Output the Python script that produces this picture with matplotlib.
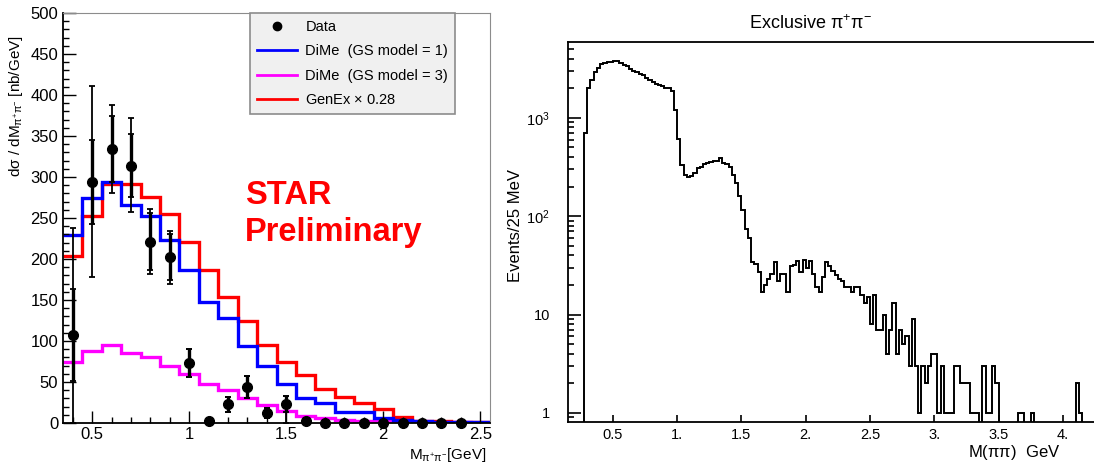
import numpy as np
import matplotlib
matplotlib.use('Agg')
import matplotlib.pyplot as plt
from matplotlib.lines import Line2D
from matplotlib.ticker import MultipleLocator, FixedLocator, FixedFormatter, LogLocator, NullFormatter

plt.rcParams['font.family'] = ['Liberation Sans', 'DejaVu Sans']
plt.rcParams['mathtext.fontset'] = 'custom'
plt.rcParams['mathtext.rm'] = 'Liberation Sans'
plt.rcParams['mathtext.it'] = 'Liberation Sans:italic'
plt.rcParams['mathtext.default'] = 'regular'

# --- STAR: d sigma / d M, 0.1 GeV bins starting at 0.35 GeV ---
star_lo, star_w = 0.35, 0.1
dime_gs1 = [229, 274, 294, 266, 252, 223, 187, 147, 128, 94, 70, 47,
            31, 25, 13, 13, 6, 3.5, 2, 1.5, 1, 0.8]
dime_gs3 = [74, 88, 95, 85, 80, 70, 60, 47, 40, 30, 22, 15,
            9, 6, 4, 3, 2.5, 2, 1.5, 1, 0.8, 0.5]
genex = [204, 253, 292, 292, 275, 255, 221, 187, 154, 124, 95, 74,
         59, 42, 32, 24, 17, 7, 3, 2, 1.5, 1]

data_x = [0.4, 0.5, 0.6, 0.7, 0.8, 0.9, 1.0, 1.1, 1.2, 1.3, 1.4, 1.5,
          1.6, 1.7, 1.8, 1.9, 2.0, 2.1, 2.2, 2.3, 2.4]
data_y = [107, 294, 334, 314, 221, 202, 73, 2, 23, 44, 12, 23,
          3, 0, 0, 0, 0, 0, 0, 0, 0]
stat_err = [56, 51, 40, 38, 35, 28, 17, 0, 9, 13, 6, 10,
            0, 0, 0, 0, 0, 0, 0, 0, 0]
tot_lo = [107, 116, 53, 57, 39, 32, 17, 0, 9, 13, 6, 23,
          0, 0, 0, 0, 0, 0, 0, 0, 0]
tot_hi = [131, 117, 54, 58, 40, 32, 17, 0, 9, 13, 6, 10,
          0, 0, 0, 0, 0, 0, 0, 0, 0]

# --- old exclusive pi+pi- spectrum, 25 MeV bins starting at 0.275 GeV ---
mpp_lo, mpp_w = 0.275, 0.025
events = [
    698, 2003, 2434, 2890, 3200, 3514, 3597, 3657, 3710, 3800,   # 0.275
    3741, 3597, 3460, 3327, 3150, 3005, 2890, 2780, 2737, 2570,  # 0.525
    2434, 2287, 2217, 2166, 2115, 2034, 2003, 1853, 1206, 607,   # 0.775
    333, 263, 253, 257, 278, 308, 320, 338, 346, 352,            # 1.025
    360, 368, 389, 346, 341, 320, 263, 217, 161, 116,            # 1.275
    75, 60, 34, 33, 27, 17, 20, 23, 26, 34,                      # 1.525
    22, 26, 26, 17, 31, 32, 35, 27, 36, 30,                      # 1.775
    35, 26, 19, 17, 24, 34, 31, 28, 25, 23,                      # 2.025
    22, 19, 19, 17, 19, 19, 16, 13, 15, 8,                       # 2.275
    16, 7, 7, 10, 4, 7, 13, 4, 7, 5,                             # 2.525
    6, 3, 9, 3, 1, 3, 2, 3, 4, 4,                                # 2.775
    1, 3, 1, 1, 1, 3, 3, 2, 2, 2,                                # 3.025
    1, 1, 1, 0, 3, 1, 1, 3, 2, 0,                                # 3.275
    0, 0, 0, 0, 0, 1, 1, 0, 0, 1,                                # 3.525
    0, 0, 0, 0, 0, 0, 0, 0, 0, 0,                                # 3.775
    0, 0, 0, 2, 1,                                               # 4.025
]

fig = plt.figure(figsize=(10.94, 4.65), dpi=100)

# ---------------- left panel ----------------
ax1 = fig.add_axes([63 / 1094, 1 - 423 / 465, 427 / 1094, 410 / 465])
star_edges = star_lo + star_w * np.arange(len(dime_gs1) + 1)
ax1.stairs(dime_gs3, star_edges, baseline=None, color='#ff00ff', lw=2.4)
ax1.stairs(genex, star_edges, baseline=None, color='#ff0000', lw=2.4)
ax1.stairs(dime_gs1, star_edges, baseline=None, color='#0000ff', lw=2.4)

ax1.errorbar(data_x, data_y, yerr=[tot_lo, tot_hi], fmt='none', ecolor='k',
             elinewidth=1.3, capsize=2, capthick=1.3, clip_on=False)
ax1.errorbar(data_x, data_y, yerr=stat_err, fmt='none', ecolor='k',
             elinewidth=2.4, capsize=2, capthick=1.3, clip_on=False)
ax1.plot(data_x, data_y, 'o', color='k', ms=7, clip_on=False, zorder=5)

ax1.set_xlim(0.35, 2.55)
ax1.set_ylim(0, 500)
ax1.xaxis.set_major_locator(FixedLocator([0.5, 1, 1.5, 2, 2.5]))
ax1.xaxis.set_major_formatter(FixedFormatter(['0.5', '1', '1.5', '2', '2.5']))
ax1.xaxis.set_minor_locator(MultipleLocator(0.1))
ax1.yaxis.set_major_locator(MultipleLocator(50))
ax1.yaxis.set_minor_locator(MultipleLocator(10))
ax1.tick_params(which='both', direction='in', labelsize=12, width=1)
ax1.tick_params(which='major', length=9)
ax1.tick_params(which='minor', length=4.5)
ax1.tick_params(axis='x', pad=3)
for side in ('top', 'right'):
    ax1.spines[side].set_color('#8c8c8c')
for side in ('left', 'bottom'):
    ax1.spines[side].set_linewidth(1.3)

fig.text(16 / 1094, 1 - 106 / 465, r'd$\sigma$ / dM$_{\pi^{+}\pi^{-}}$ [nb/GeV]',
         rotation=90, ha='center', va='center', fontsize=11)
fig.text(486 / 1094, 1 - 455 / 465, r'M$_{\pi^{+}\pi^{-}}$[GeV]',
         ha='right', va='center', fontsize=11)

ax1.text(0.426, 0.592, 'STAR\nPreliminary', transform=ax1.transAxes,
         color='#ff0000', fontsize=23.5, fontweight='bold', ha='left', va='top',
         linespacing=1.22)

handles = [
    Line2D([], [], marker='o', ls='none', color='k', ms=6),
    Line2D([], [], color='#0000ff', lw=2),
    Line2D([], [], color='#ff00ff', lw=2),
    Line2D([], [], color='#ff0000', lw=2),
]
labels = ['Data', 'DiMe  (GS model = 1)', 'DiMe  (GS model = 3)',
          'GenEx $\\times$ 0.28']
leg = ax1.legend(handles, labels, loc='upper left',
                 bbox_to_anchor=(250 / 1094, 1 - 13 / 465),
                 bbox_transform=fig.transFigure, fontsize=10.5,
                 fancybox=False, framealpha=1, facecolor='#f0f0f0',
                 edgecolor='#8c8c8c', borderpad=0.5, labelspacing=0.7,
                 handlelength=2.7, handletextpad=0.6, borderaxespad=0)
leg.get_frame().set_linewidth(1.2)

# ---------------- right panel ----------------
ax2 = fig.add_axes([568 / 1094, 1 - 422 / 465, 526 / 1094, 380 / 465])
mpp_edges = mpp_lo + mpp_w * np.arange(len(events) + 1)
ax2.set_yscale('log', nonpositive='clip')
ax2.stairs(events, mpp_edges, baseline=0.1, color='k', lw=1.4)

ax2.set_xlim(0.15, 4.243)
ax2.set_ylim(0.81, 5900)
ax2.xaxis.set_major_locator(FixedLocator([0.5, 1, 1.5, 2, 2.5, 3, 3.5, 4]))
ax2.xaxis.set_major_formatter(FixedFormatter(
    ['0.5', '1.', '1.5', '2.', '2.5', '3.', '3.5', '4.']))
ax2.yaxis.set_major_locator(FixedLocator([1, 10, 100, 1000]))
ax2.yaxis.set_major_formatter(FixedFormatter(['1', '10', '$10^2$', '$10^3$']))
ax2.yaxis.set_minor_locator(LogLocator(base=10, subs=np.arange(2, 10)))
ax2.yaxis.set_minor_formatter(NullFormatter())
ax2.tick_params(which='both', direction='in', width=1.2, labelsize=10.5)
ax2.tick_params(axis='x', which='major', length=5, pad=4)
ax2.tick_params(axis='y', which='major', length=9, pad=13)
ax2.tick_params(axis='y', which='minor', length=4.5)
ax2.spines['right'].set_visible(False)
for side in ('left', 'bottom', 'top'):
    ax2.spines[side].set_linewidth(1.3)

ax2.set_title(r'Exclusive $\pi^{+}\pi^{-}$', fontsize=13, pad=9, x=0.46)
fig.text(516 / 1094, 1 - 225 / 465, 'Events/25 MeV', rotation=90,
         ha='center', va='center', fontsize=12)
fig.text(968 / 1094, 1 - 452 / 465, r'M($\pi\pi$)  GeV',
         ha='left', va='center', fontsize=12)

fig.savefig('out.png', dpi=100)
plt.close(fig)
